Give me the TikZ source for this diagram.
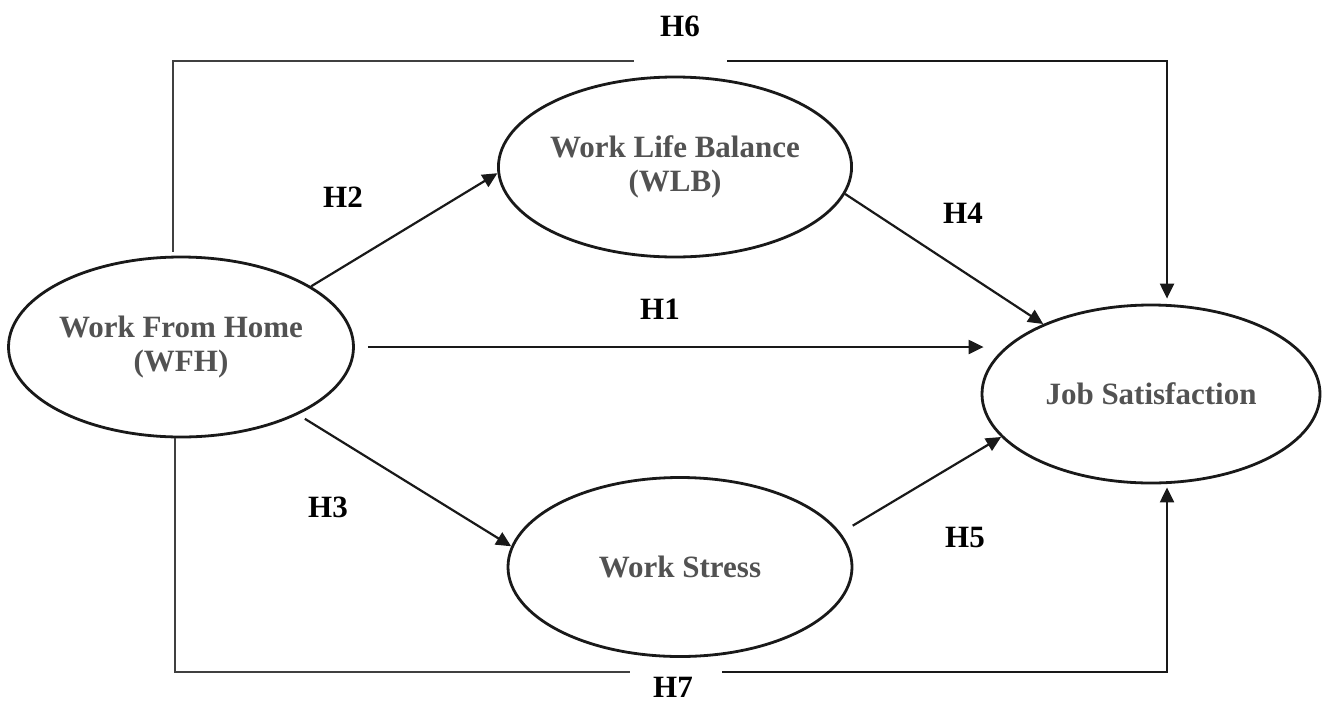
\documentclass[tikz,border=0pt]{standalone}
\usepackage{fontspec}
\setmainfont{Liberation Serif}
\usetikzlibrary{shapes.geometric,arrows.meta}
\tikzset{
	construct/.style={draw=black!90, ellipse, line width=1.4pt, inner sep=0pt, align=center, text=black!68, font=\bfseries\fontsize{15.5}{17}\selectfont},
	hyp/.style={font=\bfseries\fontsize{15.5}{17}\selectfont},
	path/.style={draw=black!90, line width=1.1pt, -{Triangle[length=7.5pt,width=7pt]}},
	link/.style={draw=black!75, line width=1pt}
}
\begin{document}
\begin{tikzpicture}[x=0.5pt,y=-0.5pt]
		\useasboundingbox (0,0) rectangle (1327,702);
		
		\node[construct, minimum width=171pt, minimum height=90pt] (wfh) at (181,347) {Work From Home\\(WFH)};
		\node[construct, minimum width=172pt, minimum height=90pt] (wlb) at (675,167) {Work Life Balance\\(WLB)};
		\node[construct, minimum width=172pt, minimum height=89.5pt] (ws) at (680,567) {Work Stress};
		\node[construct, minimum width=169pt, minimum height=89pt] (js) at (1151,394) {Job Satisfaction};
		
		\coordinate (topl) at (634,61);
		\coordinate (topr) at (727,61);
		\coordinate (botl) at (630,672);
		\coordinate (botr) at (722,672);
		
		\draw[path] (wfh.25) -- (wlb.182);
		\draw[path] ([xshift=6.5pt]wfh.east) -- ([xshift=1.5pt]js.west |- wfh.east);
		\draw[path, shorten <=4pt] (wfh.-30) -- (ws.173);
		\draw[path] (wlb.-9) -- (js.147);
		\draw[path, shorten <=7pt] (ws.12) -- (js.196);
		
		\draw[link] ([xshift=-4pt,yshift=2pt]wfh.north) |- (topl);
		\draw[path] (topr) -| ([xshift=8pt,yshift=2.5pt]js.north);
		\draw[link] ([xshift=-3pt]wfh.south) |- (botl);
		\draw[path] (botr) -| ([xshift=8pt,yshift=-1.5pt]js.south);
		
		\node[hyp] (h1) at (660,309) {H1};
		\node[hyp] (h2) at (343,197) {H2};
		\node[hyp] (h3) at (328,507) {H3};
		\node[hyp] (h4) at (963,213) {H4};
		\node[hyp] (h5) at (965,537) {H5};
		\node[hyp] (h6) at (680,26) {H6};
		\node[hyp] (h7) at (673,687) {H7};
	\end{tikzpicture}
\end{document}
